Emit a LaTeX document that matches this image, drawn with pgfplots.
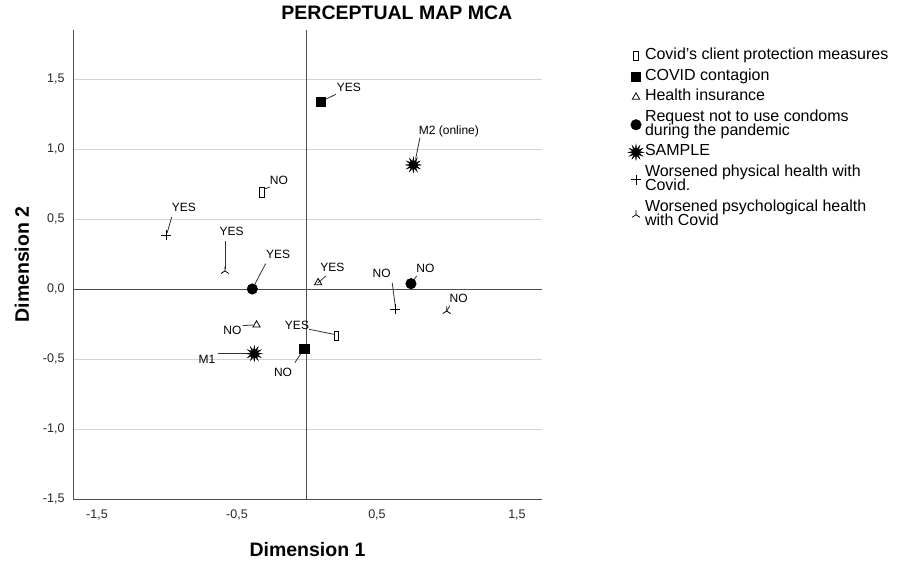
\documentclass[border=0pt]{standalone}
\usepackage{pgfplots}
\pgfplotsset{compat=1.18}
\usepackage{fontspec}
\setmainfont{Liberation Sans}

\definecolor{gridc}{HTML}{D4D4D4}
\definecolor{refc}{HTML}{4D4D4D}

% custom marks
\pgfdeclareplotmark{openrect}{%
  \pgfpathrectangle{\pgfqpoint{-2.4pt}{-4.8pt}}{\pgfqpoint{4.8pt}{9.6pt}}%
  \pgfusepathqstroke}
\pgfdeclareplotmark{burst}{%
  \pgfpathmoveto{\pgfqpointpolar{90}{8pt}}%
  \foreach \k in {1,...,23}{%
    \pgfmathsetmacro\ang{90+\k*15}%
    \ifodd\k
      \pgfpathlineto{\pgfqpointpolar{\ang}{3.4pt}}%
    \else
      \pgfpathlineto{\pgfqpointpolar{\ang}{8pt}}%
    \fi}%
  \pgfpathclose
  \pgfusepathqfillstroke}
\pgfdeclareplotmark{invy}{%
  \pgfpathmoveto{\pgfqpoint{0pt}{0pt}}\pgfpathlineto{\pgfqpoint{0pt}{4.5pt}}%
  \pgfpathmoveto{\pgfqpoint{0pt}{0pt}}\pgfpathlineto{\pgfqpoint{-3.9pt}{-2.6pt}}%
  \pgfpathmoveto{\pgfqpoint{0pt}{0pt}}\pgfpathlineto{\pgfqpoint{3.9pt}{-2.6pt}}%
  \pgfusepathqstroke}

\renewcommand{\arraystretch}{0.9}
\newcommand{\oneline}[1]{\begin{tabular}[c]{@{}l@{}}#1\end{tabular}}
\newcommand{\twoline}[2]{\begin{tabular}[c]{@{}l@{}}#1\\[-1.5pt]#2\end{tabular}}

\begin{document}
\begin{tikzpicture}
\begin{axis}[
  scale only axis,
  width=469pt, height=469pt,
  xmin=-1.671, xmax=1.679,
  ymin=-1.5, ymax=1.85,
  axis x line*=bottom, axis y line*=left,
  axis line style={color=refc, line width=0.9pt, -},
  xtick={-1.5,-0.5,0.5,1.5},
  xticklabels={{-1,5},{-0,5},{0,5},{1,5}},
  ytick={-1.5,-1,-0.5,0,0.5,1,1.5},
  yticklabels={{-1,5},{-1,0},{-0,5},{0,0},{0,5},{1,0},{1,5}},
  major tick length=0pt,
  ymajorgrids,
  major grid style={color=gridc, line width=0.9pt},
  tick label style={font=\fontsize{12.5}{13}\selectfont, text=black!85},
  xticklabel style={anchor=north, yshift=-7pt},
  yticklabel style={anchor=east, xshift=-5pt},
  title={PERCEPTUAL MAP MCA},
  title style={font=\bfseries\fontsize{19.5}{20}\selectfont, at={(axis description cs:0.437,1)}, anchor=base west, yshift=4pt},
  xlabel={Dimension 1},
  ylabel={Dimension 2},
  every axis x label/.style={at={(axis description cs:0.5,0)}, anchor=center, yshift=-51pt, font=\bfseries\fontsize{19.5}{20}\selectfont},
  every axis y label/.style={at={(axis description cs:0,0.5)}, xshift=-51pt, rotate=90, anchor=center, font=\bfseries\fontsize{19.5}{20}\selectfont},
  clip=false,
  legend style={at={(axis description cs:1.183,0.964)}, anchor=north west, draw=none, fill=none,
    font=\fontsize{16}{16}\selectfont, row sep=2.6pt, inner sep=0pt,
    nodes={inner sep=1pt, text depth=}},
  legend cell align=left,
  legend image code/.code={\draw[mark repeat=2,mark phase=2] plot coordinates {(0pt,0pt)(5pt,0pt)(10pt,0pt)};},
]
% reference lines
\addplot[refc, line width=0.9pt, forget plot] coordinates {(-1.671,0) (1.679,0)};
\addplot[refc, line width=0.9pt, forget plot] coordinates {(0,-1.5) (0,1.85)};

% leader lines
\addplot[black!80, line width=0.8pt, forget plot] coordinates {(0.134,1.355) (0.207,1.391)};
\addplot[black!80, line width=0.8pt, forget plot] coordinates {(0.776,0.926) (0.807,1.081)};
\addplot[black!80, line width=0.8pt, forget plot] coordinates {(-0.305,0.714) (-0.264,0.729)};
\addplot[black!80, line width=0.8pt, forget plot] coordinates {(-0.998,0.402) (-0.966,0.514)};
\addplot[black!80, line width=0.8pt, forget plot] coordinates {(-0.586,0.343) (-0.586,0.143)};
\addplot[black!80, line width=0.8pt, forget plot] coordinates {(-0.39,0.0) (-0.295,0.181)};
\addplot[black!80, line width=0.8pt, forget plot] coordinates {(0.079,0.045) (0.136,0.093)};
\addplot[black!80, line width=0.8pt, forget plot] coordinates {(0.634,-0.145) (0.609,0.045)};
\addplot[black!80, line width=0.8pt, forget plot] coordinates {(0.743,0.038) (0.784,0.093)};
\addplot[black!80, line width=0.8pt, forget plot] coordinates {(0.998,-0.157) (1.021,-0.121)};
\addplot[black!80, line width=0.8pt, forget plot] coordinates {(-0.459,-0.262) (-0.384,-0.257)};
\addplot[black!80, line width=0.8pt, forget plot] coordinates {(0.016,-0.288) (0.195,-0.324)};
\addplot[black!80, line width=0.8pt, forget plot] coordinates {(-0.634,-0.462) (-0.407,-0.462)};
\addplot[black!80, line width=0.8pt, forget plot] coordinates {(-0.02,-0.426) (-0.086,-0.526)};

% series
\addplot[only marks, mark=openrect, black, line width=0.8pt, fill=white] coordinates {(0.21,-0.336) (-0.32,0.69)};
\addlegendentry{\oneline{Covid's client protection measures}}
\addplot[only marks, mark=square*, mark size=4.6pt, black] coordinates {(0.10,1.34) (-0.02,-0.426)};
\addlegendentry{\oneline{COVID contagion}}
\addplot[only marks, mark=triangle, mark size=4.2pt, black, line width=0.8pt, mark options={fill=white}] coordinates {(0.08,0.045) (-0.36,-0.257)};
\addlegendentry{\oneline{Health insurance}}
\addplot[only marks, mark=*, mark size=5.3pt, black] coordinates {(-0.39,0.0) (0.743,0.038)};
\addlegendentry{\twoline{Request not to use condoms}{during the pandemic}}
\addplot[only marks, mark=burst, black, line width=0.3pt] coordinates {(-0.376,-0.462) (0.76,0.886)};
\addlegendentry{\oneline{SAMPLE}}
\addplot[only marks, mark=+, mark size=5pt, black, line width=0.8pt] coordinates {(-1.007,0.386) (0.63,-0.145)};
\addlegendentry{\twoline{Worsened physical health with}{Covid.}}
\addplot[only marks, mark=invy, black, line width=0.8pt] coordinates {(-0.586,0.129) (0.998,-0.157)};
\addlegendentry{\twoline{Worsened psychological health}{with Covid}}

% point labels
\addplot[only marks, mark=none, forget plot, nodes near coords, point meta=explicit symbolic,
  every node near coord/.style={anchor=center, font=\fontsize{12}{12}\selectfont, text=black, inner sep=0pt}]
  table[meta=lab, row sep=\\] {
  x y lab \\
  0.30 1.443 YES \\
  1.014 1.129 {M2 (online)} \\
  -0.20 0.779 NO \\
  -0.879 0.581 YES \\
  -0.538 0.409 YES \\
  -0.205 0.248 YES \\
  0.182 0.157 YES \\
  0.534 0.109 NO \\
  0.846 0.148 NO \\
  1.084 -0.067 NO \\
  -0.532 -0.295 NO \\
  -0.071 -0.26 YES \\
  -0.714 -0.502 M1 \\
  -0.171 -0.593 NO \\
  };
\end{axis}
\pgfresetboundingbox
\path (-73pt,-62pt) rectangle (824pt,499pt);
\end{tikzpicture}
\end{document}
